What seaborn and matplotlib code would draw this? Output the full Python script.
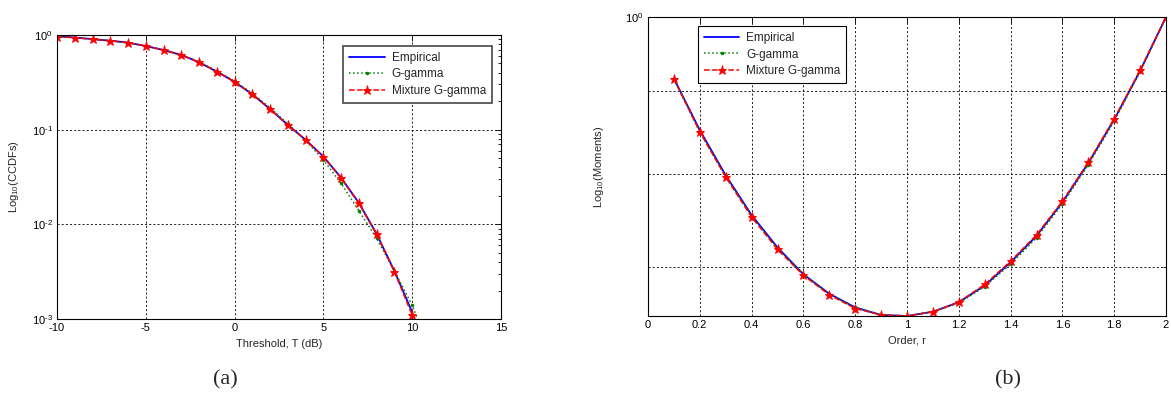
import numpy as np
import seaborn as sb
import matplotlib
matplotlib.use("Agg")
import matplotlib.pyplot as plt
from matplotlib.ticker import LogLocator, NullFormatter, FixedLocator, FuncFormatter

## values
## (a) CCDF vs threshold
threshold = [-10, -9, -8, -7, -6, -5, -4, -3, -2, -1, 0, 1, 2, 3, 4, 5, 6, 7, 8, 9, 10]
ccdf_emp = [0.97, 0.94, 0.905, 0.87, 0.83, 0.765, 0.694, 0.615, 0.515, 0.41, 0.32,
            0.236, 0.165, 0.112, 0.078, 0.052, 0.031, 0.0168, 0.0079, 0.0032, 0.00118]
threshold_gg = [-10, -9, -8, -7, -6, -5, -4, -3, -2, -1, 0, 1, 2, 3, 4, 5, 6, 7, 8, 9, 10, 10.5]
ccdf_gg = [0.97, 0.94, 0.905, 0.87, 0.83, 0.765, 0.696, 0.62, 0.52, 0.415, 0.325,
           0.242, 0.17, 0.115, 0.077, 0.048, 0.027, 0.0139, 0.0071, 0.0032, 0.0014, 0.0008]
ccdf_mix = [0.96, 0.937, 0.90, 0.87, 0.83, 0.765, 0.694, 0.615, 0.515, 0.41, 0.32,
            0.236, 0.165, 0.112, 0.0778, 0.0519, 0.0306, 0.0167, 0.00784, 0.00316, 0.0011]

## (b) moments vs order
order = [0.1, 0.2, 0.3, 0.4, 0.5, 0.6, 0.7, 0.8, 0.9, 1.0,
         1.1, 1.2, 1.3, 1.4, 1.5, 1.6, 1.7, 1.8, 1.9, 2.0]
mom_emp = [0.916, 0.851, 0.798, 0.754, 0.720, 0.693, 0.674, 0.661, 0.654, 0.653,
           0.657, 0.666, 0.682, 0.705, 0.732, 0.768, 0.812, 0.864, 0.926, 1.0]
mom_gg = [0.915, 0.849, 0.797, 0.753, 0.719, 0.693, 0.674, 0.661, 0.654, 0.653,
          0.657, 0.665, 0.681, 0.703, 0.730, 0.766, 0.810, 0.862, 0.925, 1.0]
mom_mix = [0.916, 0.849, 0.796, 0.752, 0.718, 0.692, 0.673, 0.660, 0.654, 0.653,
           0.657, 0.666, 0.683, 0.706, 0.733, 0.769, 0.813, 0.865, 0.927, 1.0]

sb.set_style("white")
plt.rcParams['font.family'] = ['Liberation Sans', 'DejaVu Sans']
plt.rcParams['mathtext.fontset'] = 'custom'
plt.rcParams['mathtext.rm'] = 'Liberation Sans'
plt.rcParams['axes.unicode_minus'] = False

fig = plt.figure(figsize=(11.71, 4.12), dpi=100)
W, H = 1171, 412
axA = fig.add_axes([57 / W, 1 - 319 / H, (501 - 57) / W, (319 - 35) / H])
axB = fig.add_axes([648 / W, 1 - 316 / H, (1166 - 648) / W, (316 - 17) / H])

GRID = dict(color='black', linestyle=(0, (2.5, 2.5)), lw=0.6)


def pow10(v, pos):
    e = int(round(np.log10(v)))
    return '10$^{%s}$' % (('\\text{-}%d' % -e) if e < 0 else str(e))


def draw(ax, x1, y1, x2, y2, x3, y3):
    sb.lineplot(x=x1, y=y1, ax=ax, color='#0000ff', lw=1.3, label='Empirical')
    sb.lineplot(x=x2, y=y2, ax=ax, color='#008000', lw=1.1, linestyle=':',
                marker='.', markersize=5, markeredgewidth=0, label='G-gamma')
    sb.lineplot(x=x3, y=y3, ax=ax, color='#ff0000', lw=1.1, linestyle='--',
                marker='*', markersize=6.5, markeredgewidth=0.6, markeredgecolor='#ff0000',
                dashes=(5, 3), label='Mixture G-gamma')


def matlab_style(ax):
    for s in ax.spines.values():
        s.set_color('black')
        s.set_linewidth(0.8)
    ax.tick_params(which='both', direction='in', top=True, right=True,
                   labelsize=8, length=4, width=0.6, colors='black', pad=3)
    ax.tick_params(which='minor', length=2)


def boxed_legend(ax, anchor, loc, edge, lw):
    leg = ax.legend(loc=loc, fontsize=8.5, frameon=True, fancybox=False,
                    handlelength=3.0, borderpad=0.5, labelspacing=0.4,
                    handletextpad=0.6, bbox_to_anchor=anchor)
    leg.get_frame().set_edgecolor(edge)
    leg.get_frame().set_linewidth(lw)
    leg.get_frame().set_alpha(1)


draw(axA, threshold, ccdf_emp, threshold_gg, ccdf_gg, threshold, ccdf_mix)
axA.set_yscale('log')
axA.set_xlim(-10, 15)
axA.set_ylim(1e-3, 1)
axA.set_xticks([-10, -5, 0, 5, 10, 15])
axA.yaxis.set_major_locator(FixedLocator([1e-3, 1e-2, 1e-1, 1]))
axA.yaxis.set_major_formatter(FuncFormatter(pow10))
axA.yaxis.set_minor_locator(LogLocator(base=10, subs=np.arange(2, 10), numticks=20))
axA.yaxis.set_minor_formatter(NullFormatter())
axA.grid(True, which='major', **GRID)
matlab_style(axA)
axA.set_xlabel('Threshold, T (dB)', fontsize=8, labelpad=4)
axA.set_ylabel('Log$_{10}$(CCDFs)', fontsize=8, labelpad=8)
boxed_legend(axA, (0.993, 0.983), 'upper right', '#555555', 1.3)

draw(axB, order, mom_emp, order, mom_gg, order, mom_mix)
axB.set_yscale('log')
axB.set_xlim(0, 2)
axB.set_ylim(0.653, 1.0)
axB.set_xticks(np.round(np.arange(0, 2.01, 0.2), 1))
axB.set_xticklabels(['0', '0.2', '0.4', '0.6', '0.8', '1', '1.2', '1.4', '1.6', '1.8', '2'])
axB.yaxis.set_major_locator(FixedLocator([1.0]))
axB.yaxis.set_major_formatter(FuncFormatter(pow10))
axB.yaxis.set_minor_locator(FixedLocator([0.7, 0.8, 0.9]))
axB.yaxis.set_minor_formatter(NullFormatter())
axB.grid(True, which='both', axis='y', **GRID)
axB.grid(True, which='major', axis='x', **GRID)
matlab_style(axB)
axB.set_xlabel('Order, r', fontsize=8, labelpad=4)
axB.set_ylabel('Log$_{10}$(Moments)', fontsize=8, labelpad=14)
boxed_legend(axB, (0.085, 0.99), 'upper left', 'black', 0.8)

fig.text(225 / W, 1 - 380 / H, '(a)', fontsize=16, family='Liberation Serif', ha='center', va='center')
fig.text(1008 / W, 1 - 380 / H, '(b)', fontsize=16, family='Liberation Serif', ha='center', va='center')

fig.savefig('out.png', dpi=100, facecolor='white')
